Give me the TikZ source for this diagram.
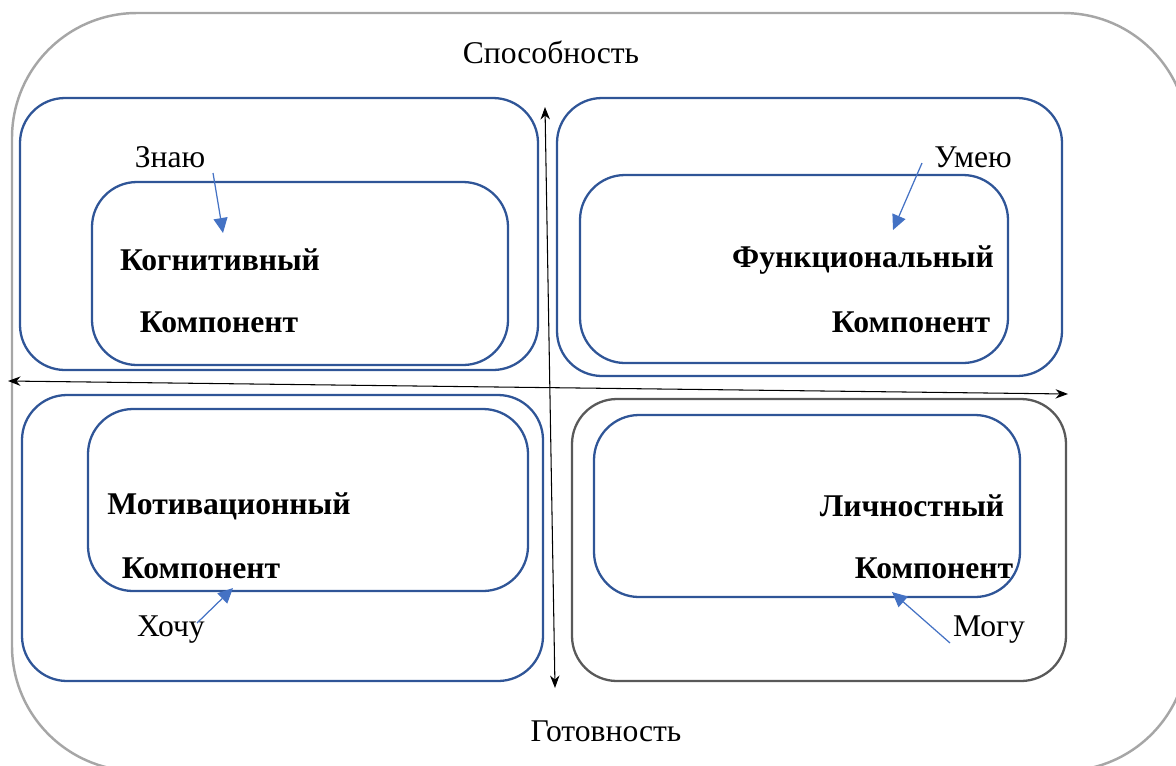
\documentclass[tikz,border=0pt]{standalone}
\usepackage{fontspec}
\setmainfont{Liberation Serif}
\usetikzlibrary{arrows.meta}
\definecolor{boxblue}{HTML}{2F5597}
\definecolor{arrblue}{HTML}{4472C4}
\definecolor{outgray}{HTML}{A6A6A6}
\definecolor{darkgray}{HTML}{595959}
\tikzset{
  comp/.style={draw=boxblue, line width=1.3pt, rounded corners=0.9cm},
  word/.style={font=\fontsize{18}{20}\selectfont},
  bold/.style={font=\fontsize{18}{20}\selectfont\bfseries},
  pointer/.style={arrblue, line width=0.7pt, -{Triangle[length=0.3cm,width=0.28cm]}}
}
\begin{document}
\begin{tikzpicture}[x=0.02cm,y=-0.02cm]
\useasboundingbox (0,0) rectangle (1176,765);
\clip (0,0) rectangle (1176,765);
\draw [outgray, line width=1.4pt, rounded corners=2.5cm] (12,13) rectangle (1188,771);
% four blocks
\draw [comp] (20,98) rectangle (538,370);
\draw [comp] (92,182) rectangle (508,365);
\draw [comp] (557,98) rectangle (1062,376);
\draw [comp] (580,175) rectangle (1008,363);
\draw [comp] (22,395) rectangle (543,681);
\draw [comp] (88,409) rectangle (528,591);
\draw [comp, draw=darkgray] (572,399) rectangle (1066,681);
\draw [comp] (594,415) rectangle (1020,597);
% axes
\draw [line width=0.6pt, {Stealth[length=0.25cm]}-{Stealth[length=0.25cm]}] (545,107) -- (555,688);
\draw [line width=0.6pt, {Stealth[length=0.25cm]}-{Stealth[length=0.25cm]}] (8,381) -- (1068,394);
% texts
\node [word] (sposob) at (551,52) {Способность};
\node [word] (gotov) at (606,731) {Готовность};
\node [word] (znayu) at (170,157) {Знаю};
\node [word] (umeyu) at (973,157) {Умею};
\node [word] (khochu) at (171,630) {Хочу};
\node [word] (mogu) at (989,630) {Могу};
\node [bold] (kogn) at (220,260) {Когнитивный};
\node [bold] (komp1) at (219,322) {Компонент};
\node [bold] (funk) at (863,260) {Функциональный};
\node [bold] (komp2) at (911,322) {Компонент};
\node [bold] (motiv) at (229,506) {Мотивационный};
\node [bold] (komp3) at (201,568) {Компонент};
\node [bold] (lichn) at (912,506) {Личностный};
\node [bold] (komp4) at (934,568) {Компонент};
% pointers
\coordinate (t1) at (223,233);
\coordinate (t2) at (893,230);
\coordinate (t3) at (233,588);
\coordinate (t4) at (892,592);
\draw [pointer] ([shift={(43,16)}]znayu.center) -- (t1);
\draw [pointer] ([shift={(-51,6)}]umeyu.center) -- (t2);
\draw [pointer] ([shift={(26,-7)}]khochu.center) -- (t3);
\draw [pointer] ([shift={(-39,13)}]mogu.center) -- (t4);
\end{tikzpicture}
\end{document}
